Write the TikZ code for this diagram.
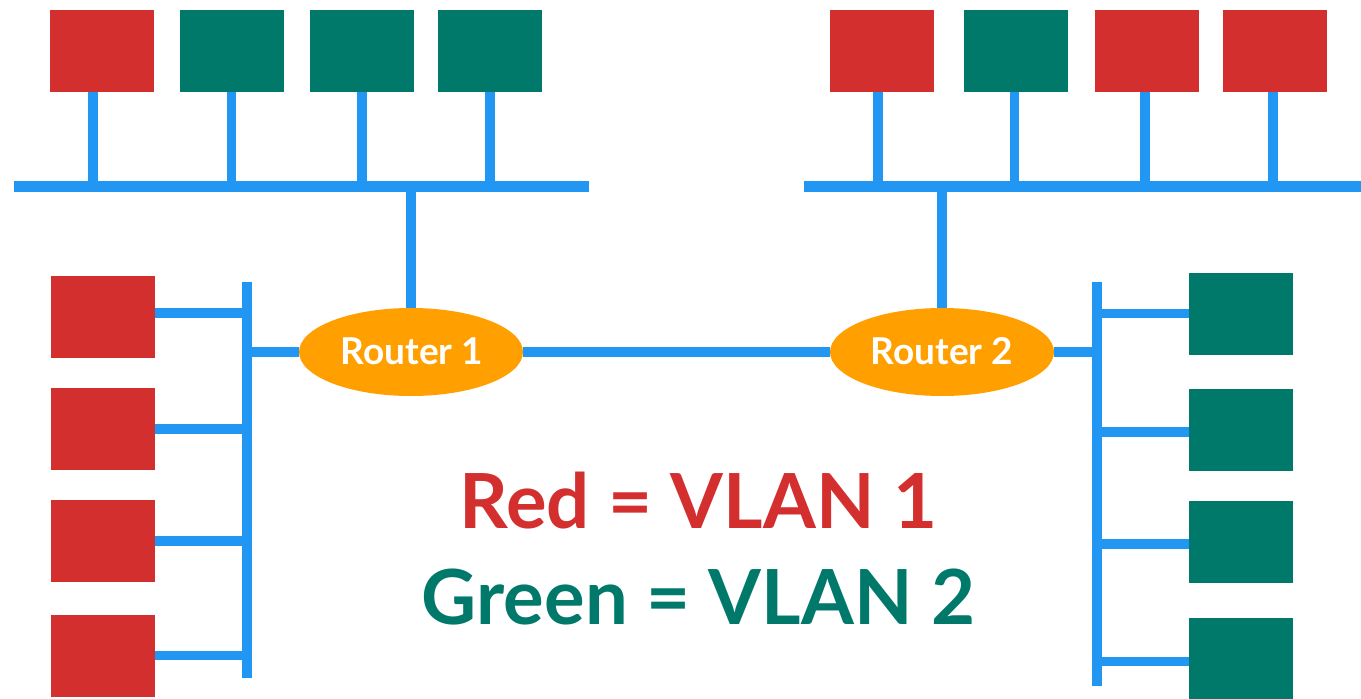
\documentclass[tikz,border=0pt]{standalone}
\usepackage{fontspec}
\setmainfont{Lato}
\usetikzlibrary{shapes.geometric}
\definecolor{vred}{HTML}{D32F2F}
\definecolor{vgreen}{HTML}{00796B}
\definecolor{wire}{HTML}{2196F3}
\definecolor{rorange}{HTML}{FFA000}
\tikzset{
  pc/.style={draw=none, minimum width=104pt, minimum height=82pt, inner sep=0pt},
  redpc/.style={pc, fill=vred},
  greenpc/.style={pc, fill=vgreen},
  router/.style={ellipse, fill=rorange, minimum width=224pt, minimum height=88pt, inner sep=0pt,
    text=white, font=\bfseries\fontsize{37}{40}\selectfont},
  bus/.style={draw=wire, line width=11pt},
  drop/.style={draw=wire, line width=9.5pt},
  legend/.style={font=\bfseries\fontsize{76}{80}\selectfont, anchor=base, inner sep=0pt}
}
\begin{document}
\begin{tikzpicture}[x=1pt,y=-1pt]
\useasboundingbox (0,0) rectangle (1361,699);
% bus coordinates
\coordinate (busTLa) at (14,186);
\coordinate (busTLb) at (589,186);
\coordinate (busTRa) at (804,186);
\coordinate (busTRb) at (1361,186);
\coordinate (busLa) at (247,282);
\coordinate (busLb) at (247,678);
\coordinate (busRa) at (1097,282);
\coordinate (busRb) at (1097,686);
% top left boxes
\node[redpc]   (tl1) at (101.5,51) {};
\node[greenpc] (tl2) at (231.5,51) {};
\node[greenpc] (tl3) at (362,51) {};
\node[greenpc] (tl4) at (490,51) {};
% top right boxes
\node[redpc]   (tr1) at (882,51) {};
\node[greenpc] (tr2) at (1016,51) {};
\node[redpc]   (tr3) at (1146.5,51) {};
\node[redpc]   (tr4) at (1274.5,51) {};
% left boxes
\node[redpc] (l1) at (103,317) {};
\node[redpc] (l2) at (103,429) {};
\node[redpc] (l3) at (103,541) {};
\node[redpc] (l4) at (103,655.5) {};
% right boxes
\node[greenpc] (r1) at (1241,313.5) {};
\node[greenpc] (r2) at (1241,430) {};
\node[greenpc] (r3) at (1241,542) {};
\node[greenpc] (r4) at (1241,658.5) {};
% routers
\node[router] (rt1) at (411,352) {};
\node[router] (rt2) at (942,352) {};
\node[font=\bfseries\fontsize{37}{40}\selectfont, text=white, anchor=base, inner sep=0pt] (rt1t) at (412,364) {Router 1};
\node[font=\bfseries\fontsize{37}{40}\selectfont, text=white, anchor=base, inner sep=0pt] (rt2t) at (942,364) {Router 2};
% buses
\draw[bus] (busTLa) -- (busTLb);
\draw[bus] (busTRa) -- (busTRb);
\draw[drop, line width=10pt] (busLa) -- (busLb);
\draw[drop, line width=10pt] (busRa) -- (busRb);
% top drops
\draw[drop] ([xshift=-8.5pt]tl1.south) -- ([xshift=-8.5pt]tl1.south |- busTLa);
\foreach \n in {tl2,tl3,tl4} \draw[drop] (\n.south) -- (\n.south |- busTLa);
\draw[drop] ([xshift=-4pt]tr1.south) -- ([xshift=-4pt]tr1.south |- busTRa);
\foreach \n in {tr2,tr3,tr4} \draw[drop] ([xshift=-1.5pt]\n.south) -- ([xshift=-1.5pt]\n.south |- busTRa);
% side stubs
\draw[drop] ([yshift=4pt]l1.east) -- ([yshift=4pt]l1.east -| busLa);
\draw[drop] (l2.east) -- (l2.east -| busLa);
\draw[drop] (l3.east) -- (l3.east -| busLa);
\draw[drop] (l4.east) -- (l4.east -| busLa);
\draw[drop] (r1.west) -- (r1.west -| busRa);
\draw[drop] ([yshift=-2pt]r2.west) -- ([yshift=-2pt]r2.west -| busRa);
\draw[drop] ([yshift=-2pt]r3.west) -- ([yshift=-2pt]r3.west -| busRa);
\draw[drop] ([yshift=-3pt]r4.west) -- ([yshift=-3pt]r4.west -| busRa);
% router links
\draw[drop] (rt1.north |- busTLa) -- (rt1.north);
\draw[drop] (rt2.north |- busTRa) -- (rt2.north);
\draw[drop] (rt1.east) -- (rt2.west);
\draw[drop] (rt1.west -| busLa) -- (rt1.west);
\draw[drop] (rt2.east) -- (rt2.east -| busRa);
% legend
\node[legend, text=vred]   (leg1) at (698.5,528) {Red = VLAN 1};
\node[legend, text=vgreen] (leg2) at (698.5,624) {Green = VLAN 2};
\end{tikzpicture}
\end{document}
